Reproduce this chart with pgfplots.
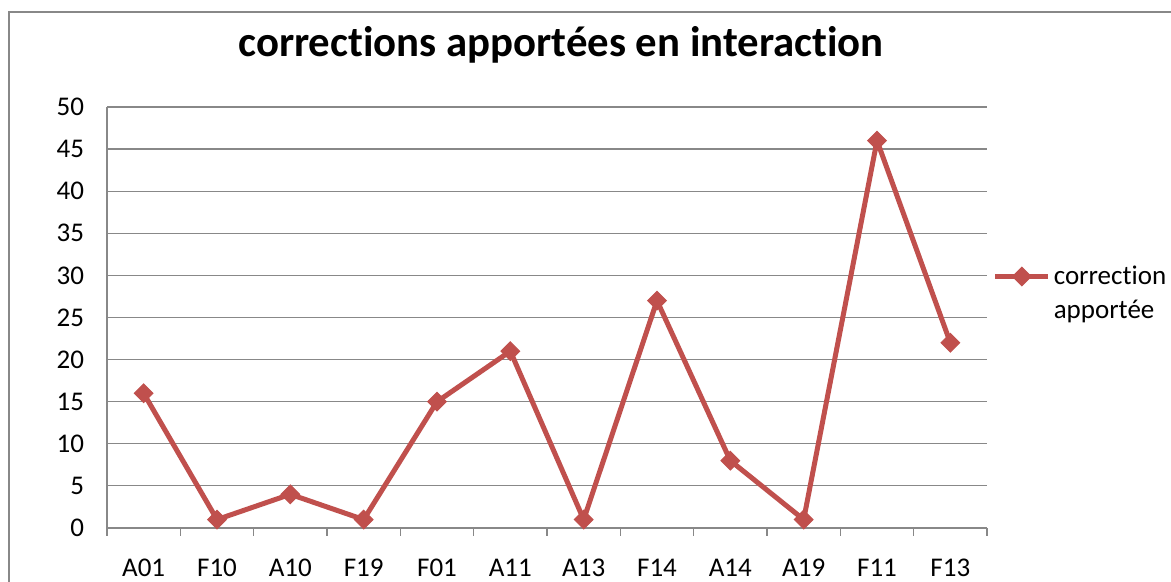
\documentclass[border=0pt]{standalone}
\usepackage{fontspec}
\setmainfont{Carlito}[Ligatures={NoCommon}]
\usepackage{pgfplots}
\pgfplotsset{compat=1.18}
\definecolor{exred}{HTML}{C0504D}
\definecolor{gridg}{HTML}{888888}
\begin{document}
\begin{tikzpicture}[x=0.5pt,y=0.5pt]
\path[use as bounding box] (0,0) rectangle (1171,582);
\draw[gridg, line width=1pt] (9,-20) -- (9,570) -- (1200,570);
\node[font=\fontsize{21.4}{25}\selectfont\bfseries, anchor=base] at (561,525) {corrections apportées en interaction};
\begin{axis}[
  at={(53.5pt,27pt)}, anchor=south west,
  scale only axis, width=440pt, height=210.5pt,
  xmin=-0.5, xmax=11.5, ymin=0, ymax=50,
  ytick={0,5,...,50},
  xtick={0,...,11},
  xticklabels={A01,F10,A10,F19,F01,A11,A13,F14,A14,A19,F11,F13},
  extra x ticks={-0.5,0.5,...,11.5},
  extra x tick labels={},
  extra x tick style={major tick length=4pt, tick style={gridg, line width=0.6pt}},
  major tick length=0pt,
  ytick style={gridg, line width=0.6pt},
  ymajorgrids, grid style={gridg, line width=0.6pt},
  axis x line*=bottom, axis y line*=left,
  axis line style={gridg, line width=0.6pt, -},
  tick align=outside,
  y tick label style={font=\fontsize{13.5}{16}\selectfont, xshift=-8pt},
  x tick label style={font=\fontsize{13.5}{16}\selectfont, yshift=-12pt},
  /pgf/number format/assume math mode=true,
  clip=false,
  legend style={at={(0.9993,0.557)}, anchor=west, draw=none, fill=none, font=\fontsize{13.5}{17}\selectfont, legend cell align=left, align=left, nodes={inner xsep=1.5pt}},
  legend image code/.code={\draw[#1, yshift=8.5pt, mark repeat=2, mark phase=2] plot coordinates {(0pt,0pt) (13.25pt,0pt) (26.5pt,0pt)};},
]
\addplot[exred, line width=2.5pt, mark=square*, mark size=3.3pt, mark options={rotate=45, solid, line width=0.5pt}]
coordinates {(0,16) (1,1) (2,4) (3,1) (4,15) (5,21) (6,1) (7,27) (8,8) (9,1) (10,46) (11,22)};
\addlegendentry{correction\\apportée}
\end{axis}
\end{tikzpicture}
\end{document}
